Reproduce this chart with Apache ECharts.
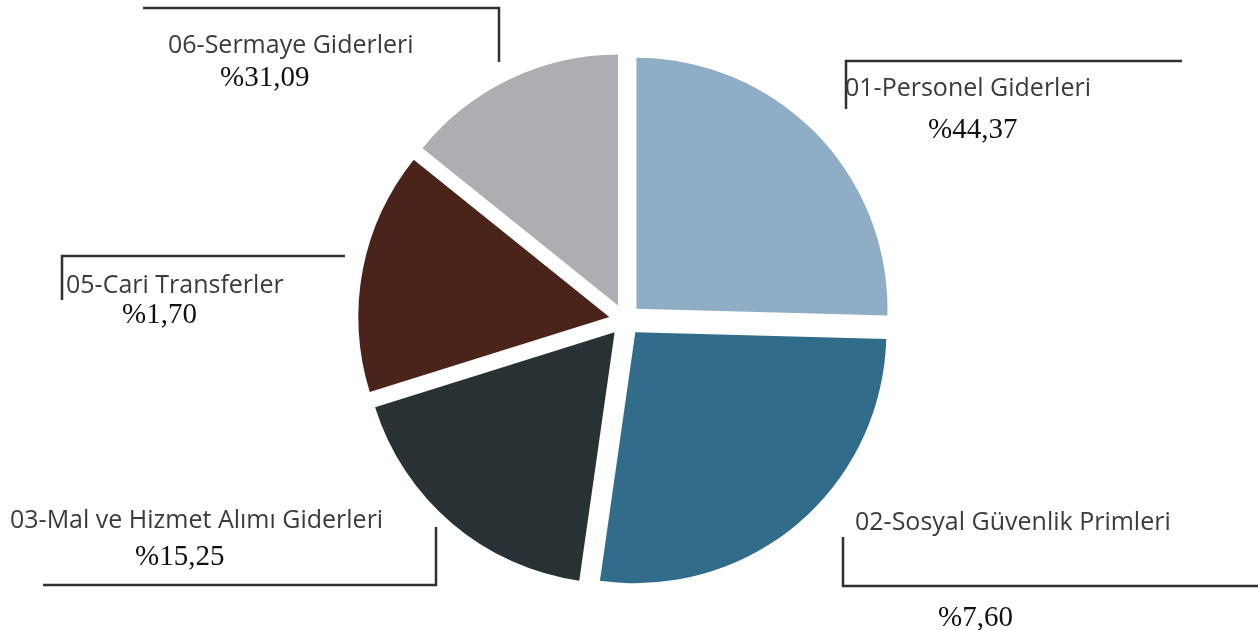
<!DOCTYPE html>
<html>
<head>
<meta charset="utf-8">
<script src="https://cdn.jsdelivr.net/npm/echarts@6/dist/echarts.min.js"></script>
<style>
  html, body { margin: 0; padding: 0; background: #fff; }
  #chart { width: 1258px; height: 630px; }
</style>
</head>
<body>
<div id="chart"></div>
<script>
// wedge sizes (the printed % labels don't match them)
var names = ['01-Personel Giderleri', '02-Sosyal Güvenlik Primleri', '03-Mal ve Hizmet Alımı Giderleri', '05-Cari Transferler', '06-Sermaye Giderleri'];
var sliceValues = [25.4, 26.8, 17.9, 15.6, 14.2];
var pctLabels = ['%44,37', '%7,60', '%15,25', '%1,70', '%31,09'];
var colors = ['#8fadc4', '#316c8a', '#283133', '#4a231b', '#adaeb1'];

// where each label sits: [nameX, nameBaseline, pctX, pctBaseline]
var spots = [
  [845, 98, 928, 140],
  [855, 532, 938, 628],
  [10, 530, 135, 567],
  [66, 295, 122, 325],
  [168, 55, 220, 88]
];
// bracket lines next to the labels
var brackets = [
  [[846, 109], [846, 61], [1182, 61]],
  [[843, 537], [843, 586], [1258, 586]],
  [[43, 585], [436, 585], [436, 527]],
  [[345, 256], [62, 256], [62, 300]],
  [[143, 8], [499, 8], [499, 62]]
];

var NAME_SIZE = 25, PCT_SIZE = 29;

var graphics = [];
brackets.forEach(function (pts) {
  graphics.push({
    type: 'polyline',
    silent: true,
    shape: { points: pts },
    style: { stroke: '#2e3035', lineWidth: 2.5, fill: null }
  });
});
names.forEach(function (n, i) {
  var s = spots[i];
  graphics.push({
    type: 'text',
    silent: true,
    x: s[0],
    y: s[1] - NAME_SIZE * 0.36,
    style: { text: n, fontFamily: 'Open Sans', fontSize: NAME_SIZE, fill: '#3b3b3b', align: 'left', verticalAlign: 'middle' }
  });
  graphics.push({
    type: 'text',
    silent: true,
    x: s[2],
    y: s[3] - PCT_SIZE * 0.33,
    style: { text: pctLabels[i], fontFamily: 'Liberation Serif', fontSize: PCT_SIZE, fill: '#111', align: 'left', verticalAlign: 'middle' }
  });
});

var data = [];
for (var i = 0; i < names.length; i++) {
  data.push({
    name: names[i],
    value: sliceValues[i],
    selected: true,
    itemStyle: { color: colors[i] }
  });
}

var chart = echarts.init(document.getElementById('chart'));
chart.setOption({
  backgroundColor: '#fff',
  animation: false,
  graphic: graphics,
  series: [{
    type: 'pie',
    center: [625, 320],
    radius: 251,
    startAngle: 90,
    clockwise: true,
    selectedMode: 'multiple',
    selectedOffset: 16,
    emphasis: { disabled: true },
    label: { show: false },
    labelLine: { show: false },
    data: data
  }]
});
</script>
</body>
</html>
